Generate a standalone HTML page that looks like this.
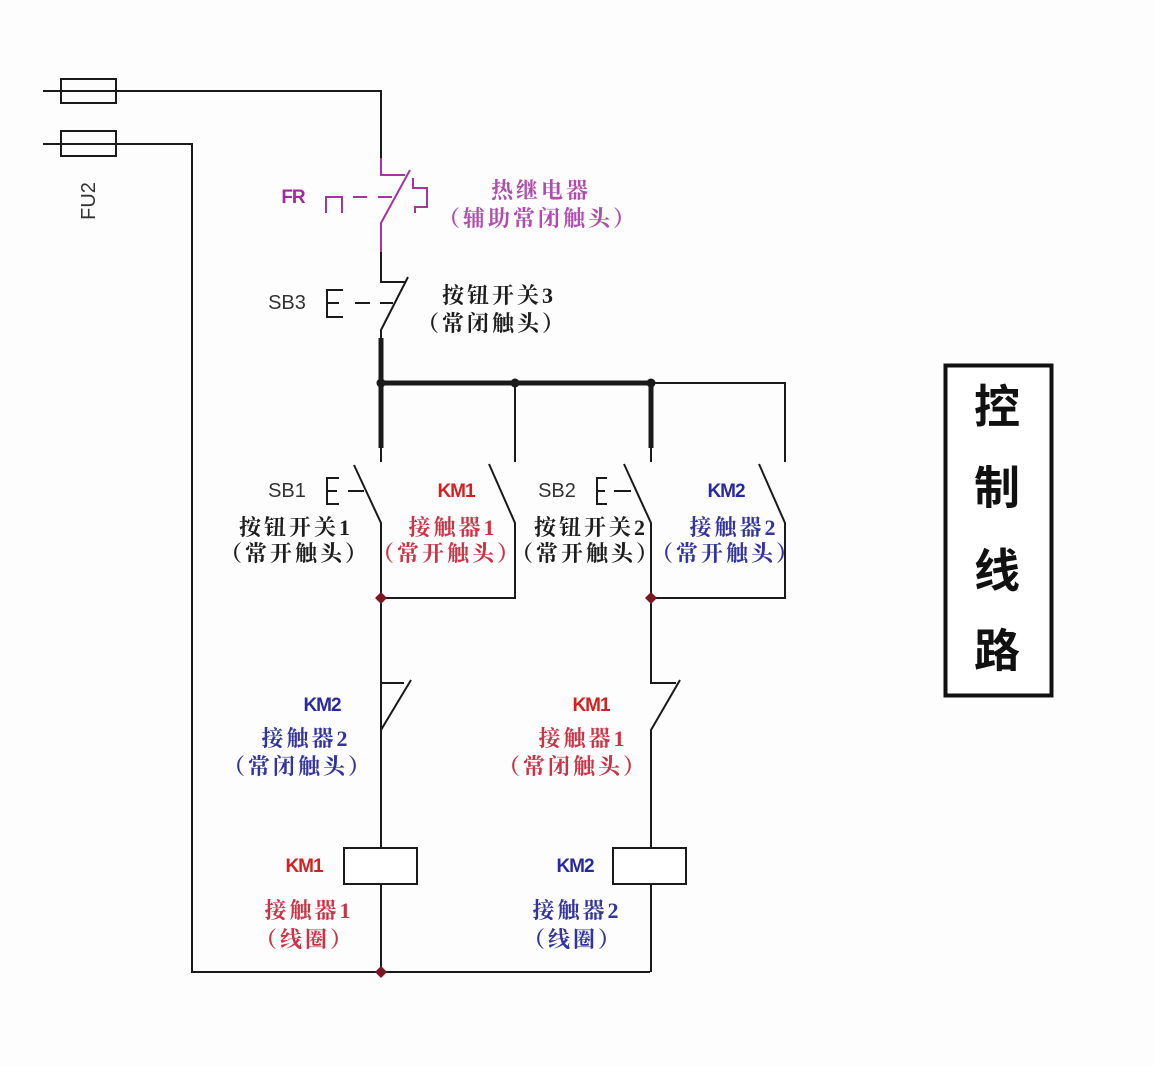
<!DOCTYPE html>
<html><head><meta charset="utf-8"><style>
html,body{margin:0;padding:0;background:#fff;}
svg{display:block;}
.cj{font-family:"Liberation Serif","Noto Serif CJK SC",serif;font-weight:700;font-size:22px;letter-spacing:3px;text-anchor:middle;}
.km{font-family:"Liberation Sans",sans-serif;font-weight:700;font-size:19px;letter-spacing:-1px;text-anchor:middle;}
.sb{font-family:"Liberation Sans",sans-serif;font-size:20px;fill:#333;text-anchor:middle;}
.tt{font-family:"Liberation Sans","Noto Sans CJK SC",sans-serif;font-weight:700;font-size:46px;text-anchor:middle;fill:#111;}
</style></head><body>
<svg width="1154" height="1066" viewBox="0 0 1154 1066" xmlns="http://www.w3.org/2000/svg">
<rect width="1154" height="1066" fill="#fdfdfe"/>
<g stroke="#1a1a1a" stroke-width="2" fill="none">
  <path d="M43 91 H381 V160"/>
  <rect x="61" y="79" width="55" height="24"/>
  <path d="M43 144 H192 V972 H650"/>
  <rect x="61" y="131" width="55" height="25"/>
  <!-- SB3 -->
  <path d="M381 250 V282 H405"/>
  <path d="M408 277 L381 330 V340"/>
  <path d="M343 290 H327 V317 H343 M327 303 H339"/>
  <path d="M355 303 H370 M380 303 H393"/>
  <!-- thick bus -->
  <path d="M381 338 V448 M381 383 H651 M651 383 V448" stroke-width="5"/>
  <path d="M381 446 V462 M651 446 V462 M651 383 H785 V462 M515 383 V462"/>
  <!-- SB1 -->
  <path d="M354 465 L381 523 V972"/>
  <path d="M339 478 H327 V504 H339 M327 491 H337"/>
  <path d="M348 491 H364"/>
  <!-- KM1 NO -->
  <path d="M489 464 L515 523 V598 H381"/>
  <!-- SB2 -->
  <path d="M624 464 L651 523 V683 H676"/>
  <path d="M607 478 H597 V504 H607 M597 491 H605"/>
  <path d="M614 491 H631"/>
  <!-- KM2 NO -->
  <path d="M759 464 L785 523 V598 H651"/>
  <!-- left NC -->
  <path d="M381 598 V683 H404"/>
  <path d="M411 680 L381 730"/>
  <!-- right NC -->
  <path d="M680 680 L651 730 V972"/>
  <!-- coils -->
  <rect x="344" y="848" width="73" height="36" fill="#fff"/>
  <rect x="613" y="848" width="73" height="36" fill="#fff"/>
</g>
<!-- FR in magenta -->
<g stroke="#a8359f" stroke-width="2" fill="none">
  <path d="M381 158 V175 H405"/>
  <path d="M410 170 L381 223 V252"/>
  <path d="M326 213 V197 H342 V213"/>
  <path d="M353 197 H367 M378 197 H392"/>
  <path d="M413 178 V188 H427 V207 H415 V213"/>
</g>
<!-- junction dots -->
<g fill="#1a1a1a">
  <circle cx="381" cy="383" r="4.5"/>
  <circle cx="515" cy="383" r="4.5"/>
  <circle cx="651" cy="383" r="4.5"/>
</g>
<g fill="#7d1624">
  <path d="M381 592 L387 598 L381 604 L375 598 Z"/>
  <path d="M651 592 L657 598 L651 604 L645 598 Z"/>
  <path d="M381 966 L387 972 L381 978 L375 972 Z"/>
</g>
<!-- title box -->
<rect x="945.5" y="365.5" width="106" height="330" fill="#fff" stroke="#111" stroke-width="4"/>
<text class="tt" x="997" y="423">控</text>
<text class="tt" x="997" y="504">制</text>
<text class="tt" x="997" y="587">线</text>
<text class="tt" x="997" y="667">路</text>

<!-- left labels -->
<text class="sb" x="0" y="0" transform="translate(95,201) rotate(-90)">FU2</text>
<text class="km" x="293" y="203" fill="#a02a9a" font-size="18">FR</text>
<text class="sb" x="287" y="309">SB3</text>
<text class="sb" x="287" y="497">SB1</text>
<text class="sb" x="557" y="497">SB2</text>

<!-- CJK labels -->
<text class="cj" x="541" y="198" fill="#b04cae">热继电器</text>
<text class="cj" x="538" y="226" fill="#b04cae">（辅助常闭触头）</text>
<text class="cj" x="499" y="303" fill="#1e1e1e">按钮开关3</text>
<text class="cj" x="492" y="331" fill="#1e1e1e">（常闭触头）</text>

<text class="cj" x="296" y="535" fill="#1e1e1e">按钮开关1</text>
<text class="cj" x="295" y="561" fill="#1e1e1e">（常开触头）</text>
<text class="cj" x="453" y="535" fill="#cc3344">接触器1</text>
<text class="cj" x="447" y="561" fill="#cc3344">（常开触头）</text>
<text class="cj" x="591" y="535" fill="#1e1e1e">按钮开关2</text>
<text class="cj" x="586" y="561" fill="#1e1e1e">（常开触头）</text>
<text class="cj" x="734" y="535" fill="#34349e">接触器2</text>
<text class="cj" x="726" y="561" fill="#34349e">（常开触头）</text>

<text class="km" x="456" y="497" fill="#d42020">KM1</text>
<text class="km" x="726" y="497" fill="#2a2aa0">KM2</text>

<text class="km" x="322" y="711" fill="#2a2aa0">KM2</text>
<text class="cj" x="306" y="746" fill="#34349e">接触器2</text>
<text class="cj" x="298" y="774" fill="#34349e">（常闭触头）</text>
<text class="km" x="591" y="711" fill="#d42020">KM1</text>
<text class="cj" x="583" y="746" fill="#cc3344">接触器1</text>
<text class="cj" x="573" y="774" fill="#cc3344">（常闭触头）</text>

<text class="km" x="304" y="872" fill="#d42020">KM1</text>
<text class="cj" x="309" y="918" fill="#cc3344">接触器1</text>
<text class="cj" x="305" y="947" fill="#cc3344">（线圈）</text>
<text class="km" x="575" y="872" fill="#2a2aa0">KM2</text>
<text class="cj" x="577" y="918" fill="#34349e">接触器2</text>
<text class="cj" x="573" y="947" fill="#34349e">（线圈）</text>
</svg>
</body></html>
